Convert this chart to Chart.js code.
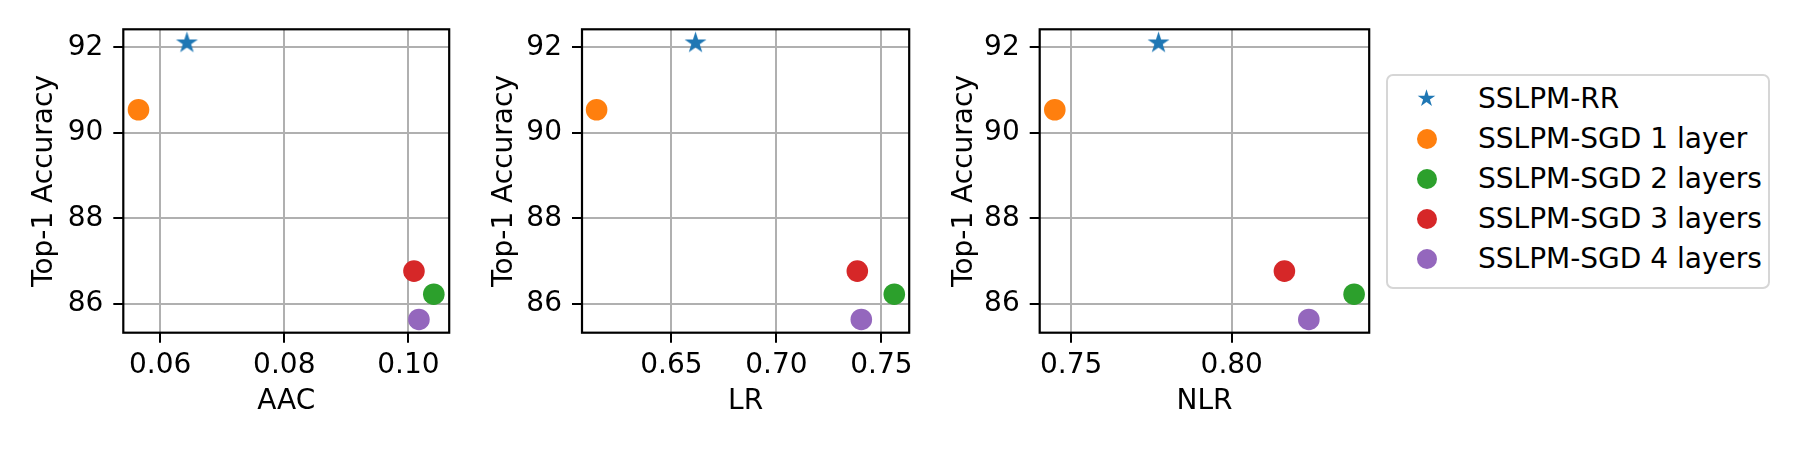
<!DOCTYPE html>
<html>
<head>
<meta charset="utf-8">
<script src="https://cdn.jsdelivr.net/npm/chart.js@4.4.0/dist/chart.umd.min.js"></script>
<style>
  body { margin: 0; background: #fff; }
  #wrap { position: relative; width: 1799px; height: 450px; overflow: hidden; font-family: 'DejaVu Sans', sans-serif; }
  canvas.panel { position: absolute; top: 0; }
  #legend { position: absolute; left: 1386px; top: 74px; width: 380px; height: 211px;
            border: 2.5px solid #d6d6d6; border-radius: 7px; background: rgba(255,255,255,0.8); }
  .row { position: absolute; left: 90px; height: 40px; line-height: 40px; font-size: 28px; white-space: nowrap; color: #000; }
  .mark { position: absolute; }
</style>
</head>
<body>
<div id="wrap">
  <canvas id="cAAC" class="panel" width="460" height="450" style="left:0px"></canvas>
  <canvas id="cLR" class="panel" width="460" height="450" style="left:460px"></canvas>
  <canvas id="cNLR" class="panel" width="460" height="450" style="left:920px"></canvas>
  <div id="legend"></div>
</div>
<script>
// ---- 데이터 ----
const seriesNames = ['SSLPM-RR', 'SSLPM-SGD 1 layer', 'SSLPM-SGD 2 layers', 'SSLPM-SGD 3 layers', 'SSLPM-SGD 4 layers'];
const seriesColors = ['#1f77b4', '#ff7f0e', '#2ca02c', '#d62728', '#9467bd'];

// Top-1 Accuracy (세 그래프 공통)
const top1Acc = [92.1, 90.54, 86.23, 86.77, 85.64];

// x 값
const aacVals = [0.0643, 0.0565, 0.1041, 0.1009, 0.1017];
const lrVals = [0.6615, 0.6144, 0.7561, 0.7385, 0.7404];
const nlrVals = [0.7772, 0.7449, 0.8381, 0.8164, 0.8240];

// 눈금
const yTicks = [86, 88, 90, 92];
const aacTicks = [0.06, 0.08, 0.10];
const lrTicks = [0.65, 0.70, 0.75];
const nlrTicks = [0.75, 0.80];

Chart.defaults.font.family = "'DejaVu Sans', sans-serif";
Chart.defaults.font.size = 28;
Chart.defaults.color = '#000';

// 별 모양 마커 (matplotlib '*')
function makeStar(R, color) {
    let size = Math.ceil(2 * R + 4);
    let cv = document.createElement('canvas');
    cv.width = size;
    cv.height = size;
    let ctx = cv.getContext('2d');
    let c = size / 2;
    let inner = R * 0.381966;
    ctx.beginPath();
    for (let k = 0; k < 10; k++) {
        let r = k % 2 === 0 ? R : inner;
        let ang = -Math.PI / 2 + k * Math.PI / 5;
        let px = c + r * Math.cos(ang);
        let py = c + r * Math.sin(ang);
        if (k === 0) ctx.moveTo(px, py); else ctx.lineTo(px, py);
    }
    ctx.closePath();
    ctx.fillStyle = color;
    ctx.fill();
    return cv;
}

const starImg = makeStar(11.5, seriesColors[0]);

// 축 테두리
const frameBox = {
    id: 'frameBox',
    afterDatasetsDraw(chart) {
        const ctx = chart.ctx;
        const a = chart.chartArea;
        ctx.save();
        ctx.strokeStyle = '#000';
        ctx.lineWidth = 2.2;
        ctx.strokeRect(a.left, a.top, a.right - a.left, a.bottom - a.top);
        ctx.restore();
    }
};

function makePanel(canvasId, xLabel, xs, xTicks, xMin, xMax, axisW, padRight) {
    let datasets = [];
    for (let i = 0; i < seriesNames.length; i++) {
        datasets.push({
            label: seriesNames[i],
            data: [{ x: xs[i], y: top1Acc[i] }],
            pointStyle: i === 0 ? starImg : 'circle',
            pointRadius: 10.8,
            backgroundColor: seriesColors[i],
            borderColor: seriesColors[i],
            borderWidth: 0
        });
    }

    let gridOpts = {
        color: '#b0b0b0',
        lineWidth: 2,
        drawTicks: true,
        tickLength: 10,
        tickColor: '#000',
        tickWidth: 2
    };

    return new Chart(document.getElementById(canvasId), {
        type: 'scatter',
        data: { datasets: datasets },
        options: {
            responsive: false,
            animation: false,
            layout: { padding: { left: 0, right: padRight, top: 29.3, bottom: 0 } },
            plugins: { legend: { display: false }, tooltip: { enabled: false } },
            scales: {
                x: {
                    type: 'linear',
                    min: xMin,
                    max: xMax,
                    afterBuildTicks: (axis) => { axis.ticks = xTicks.map(v => ({ value: v })); },
                    afterFit: (axis) => { axis.height = 117.3; },
                    ticks: { callback: (v) => Number(v).toFixed(2), padding: 6, maxRotation: 0 },
                    grid: gridOpts,
                    border: { display: false },
                    title: { display: true, text: xLabel, padding: { top: 0, bottom: 31.5 } }
                },
                y: {
                    type: 'linear',
                    min: 85.33,
                    max: 92.42,
                    afterBuildTicks: (axis) => { axis.ticks = yTicks.map(v => ({ value: v })); },
                    afterFit: (axis) => { axis.width = axisW; },
                    ticks: { callback: (v) => Number(v).toFixed(0), padding: 10 },
                    grid: gridOpts,
                    border: { display: false },
                    title: { display: true, text: 'Top-1 Accuracy', padding: { top: 28, bottom: 0 } }
                }
            }
        },
        plugins: [frameBox]
    });
}

makePanel('cAAC', 'AAC', aacVals, aacTicks, 0.05405, 0.10658, 123.3, 1.3);
makePanel('cLR', 'LR', lrVals, lrTicks, 0.60745, 0.7632, 122, 3.7);
makePanel('cNLR', 'NLR', nlrVals, nlrTicks, 0.7402, 0.8428, 119.7, 5.3);

// ---- 범례 ----
let legendBox = document.getElementById('legend');
for (let i = 0; i < seriesNames.length; i++) {
    let rowTop = 2.5 + 40 * i;
    let mark;
    if (i === 0) {
        mark = makeStar(9.3, seriesColors[0]);
        mark.className = 'mark';
        mark.style.left = (38.8 - mark.width / 2) + 'px';
        mark.style.top = (rowTop + 20.3 - mark.height / 2) + 'px';
    } else {
        mark = document.createElement('div');
        mark.className = 'mark';
        mark.style.width = '20.6px';
        mark.style.height = '20.6px';
        mark.style.borderRadius = '50%';
        mark.style.background = seriesColors[i];
        mark.style.left = (38.8 - 10.3) + 'px';
        mark.style.top = (rowTop + 20.3 - 10.3) + 'px';
    }
    legendBox.appendChild(mark);

    let row = document.createElement('div');
    row.className = 'row';
    row.style.top = rowTop + 'px';
    row.innerText = seriesNames[i];
    legendBox.appendChild(row);
}
</script>
</body>
</html>
